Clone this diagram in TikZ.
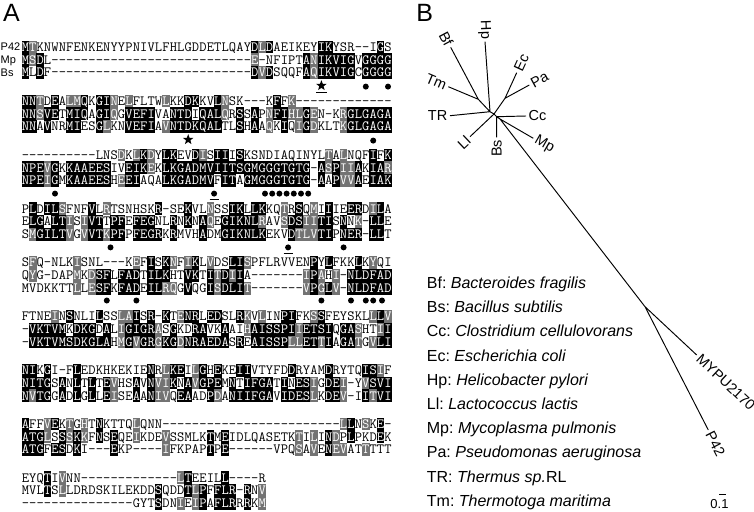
\documentclass[tikz,border=0pt]{standalone}
\usepackage{fontspec}
\setmainfont{Liberation Sans}
\usetikzlibrary{shapes.geometric}
\frenchspacing
\definecolor{shd}{gray}{0.45}
\newcommand\alnfont{\ttfamily\fontsize{14.1}{14.1}\selectfont}
\tikzset{
  resid/.style={font=\alnfont, inner sep=0pt, anchor=base, text=black},
  residw/.style={resid, text=white},
  idbox/.style={fill=black},
  simbox/.style={fill=shd},
  dotmark/.style={circle, fill=black, inner sep=0pt, minimum size=6pt},
  starmark/.style={star, star points=5, star point ratio=2.4, fill=black, inner sep=0pt, minimum size=11pt},
  ulmark/.style={line width=0.9pt},
  seqlab/.style={font=\fontsize{11}{11}\selectfont, anchor=base west, inner sep=0pt},
  panellab/.style={font=\fontsize{25}{25}\selectfont, anchor=base, inner sep=0pt},
  branch/.style={line width=0.95pt},
  leafl/.style={font=\fontsize{14.5}{14.5}\selectfont, inner sep=2.5pt, anchor=east},
  leafr/.style={font=\fontsize{14.5}{14.5}\selectfont, inner sep=2.5pt, anchor=west},
  legend/.style={font=\fontsize{16}{16}\selectfont, anchor=base west, inner sep=0pt},
}
\ExplSyntaxOn
\str_new:N \l__rs_a_str
\str_new:N \l__rs_b_str
\str_new:N \l__rs_c_str
\tl_new:N \l__rs_ca_tl
\tl_new:N \l__rs_cb_tl
\tl_new:N \l__rs_cc_tl
\tl_new:N \l__rs_xl_tl
\tl_new:N \l__rs_xr_tl
\tl_new:N \l__rs_xc_tl
\tl_new:N \l__rs_yt_tl
\tl_new:N \l__rs_yb_tl
\tl_new:N \l__rs_yl_tl
\int_new:N \l__rs_st_int
\cs_new:Npn \rsgap #1 { \prg_replicate:nn {#1} {-} }
\cs_new:Npn \__rs_group:n #1
  {
    \str_case:nnF {#1}
      {
        {I}{1} {L}{1} {V}{1} {M}{1}
        {F}{2} {Y}{2} {W}{2}
        {K}{3} {R}{3} {H}{3}
        {D}{4} {E}{4}
        {N}{5} {Q}{5}
        {S}{6} {T}{6}
        {A}{7} {G}{7}
      }
      {0}
  }
\cs_new_protected:Npn \__rs_status:nnn #1#2#3
  {
    \int_zero:N \l__rs_st_int
    \str_if_eq:nnF {#1} {-}
      {
        \bool_lazy_or:nnTF { \str_if_eq_p:nn {#1} {#2} } { \str_if_eq_p:nn {#1} {#3} }
          { \int_set:Nn \l__rs_st_int {2} }
          {
            \int_compare:nNnF { \__rs_group:n {#1} } = { 0 }
              {
                \bool_lazy_or:nnT
                  { \int_compare_p:nNn { \__rs_group:n {#1} } = { \__rs_group:n {#2} } }
                  { \int_compare_p:nNn { \__rs_group:n {#1} } = { \__rs_group:n {#3} } }
                  { \int_set:Nn \l__rs_st_int {1} }
              }
          }
      }
  }
\cs_new_protected:Npn \__rs_cell:nnnnn #1#2#3#4#5
  {
    \__rs_status:nnn {#3} {#4} {#5}
    \tl_set:Nx \l__rs_xl_tl { \fp_eval:n { 21.7 + (#1 - 1) * 7.4 - 0.1 } }
    \tl_set:Nx \l__rs_xr_tl { \fp_eval:n { 21.7 + (#1) * 7.4 + 0.1 } }
    \tl_set:Nx \l__rs_xc_tl { \fp_eval:n { 21.7 + (#1 - 0.5) * 7.4 } }
    \tl_set:Nx \l__rs_yt_tl { \fp_eval:n { #2 - 6.45 } }
    \tl_set:Nx \l__rs_yb_tl { \fp_eval:n { #2 + 6.45 } }
    \tl_set:Nx \l__rs_yl_tl { \fp_eval:n { #2 + 4.3 } }
    \int_case:nn { \l__rs_st_int }
      {
        {2} { \fill[idbox] (\l__rs_xl_tl , \l__rs_yt_tl) rectangle (\l__rs_xr_tl , \l__rs_yb_tl); }
        {1} { \fill[simbox] (\l__rs_xl_tl , \l__rs_yt_tl) rectangle (\l__rs_xr_tl , \l__rs_yb_tl); }
      }
    \int_compare:nNnTF { \l__rs_st_int } = { 0 }
      { \node[resid] at (\l__rs_xc_tl , \l__rs_yl_tl) {#3}; }
      { \node[residw] at (\l__rs_xc_tl , \l__rs_yl_tl) {#3}; }
  }
\cs_generate_variant:Nn \__rs_cell:nnnnn { nnVVV }
\NewDocumentCommand \AlnBlock { m m m m }
  {
    \str_set:Nx \l__rs_a_str {#2}
    \str_set:Nx \l__rs_b_str {#3}
    \str_set:Nx \l__rs_c_str {#4}
    \int_step_inline:nn { \str_count:N \l__rs_a_str }
      {
        \tl_set:Nx \l__rs_ca_tl { \str_item:Nn \l__rs_a_str {##1} }
        \tl_set:Nx \l__rs_cb_tl { \str_item:Nn \l__rs_b_str {##1} }
        \tl_set:Nx \l__rs_cc_tl { \str_item:Nn \l__rs_c_str {##1} }
        \__rs_cell:nnVVV {##1} {#1} \l__rs_ca_tl \l__rs_cb_tl \l__rs_cc_tl
        \__rs_cell:nnVVV {##1} {#1 + 12.8} \l__rs_cb_tl \l__rs_ca_tl \l__rs_cc_tl
        \__rs_cell:nnVVV {##1} {#1 + 25.6} \l__rs_cc_tl \l__rs_ca_tl \l__rs_cb_tl
      }
  }
\ExplSyntaxOff
\begin{document}
\begin{tikzpicture}[x=1pt,y=-1pt]
\useasboundingbox (0,0) rectangle (754,511);
\fill[white] (0,0) rectangle (754,511);
% panel labels
\node[panellab] (labA) at (11.5,22) {A};
\node[panellab] (labB) at (424.7,21.7) {B};
% sequence names
\node[seqlab] (sP42) at (0.5,51) {P42};
\node[seqlab] (sMp) at (0.5,63.8) {Mp};
\node[seqlab] (sBs) at (0.5,76.6) {Bs};
% alignment blocks
\AlnBlock{47}{MTKNWNFENKENYYPNIVLFHLGDDETLQAYDLDAEIKEYIKYSR--IGS}
  {MSDL\rsgap{27}E-NFIPTANIKVIGVGGGG}
  {MLDF\rsgap{27}DVDSQQFAQIKVIGCGGGG}
\AlnBlock{101}{NNTDEALMQKGINELFLTWLKKDKKVLNSK\rsgap{3}KFFK\rsgap{13}}
  {NNSVETMIQAGIQGVEFIVANTDIQALQRSSAPNFIHLGEN-KRGLGAGA}
  {NNAVNRMIESGLKNVEFIAVNTDKQALTLSHAAQKIQIGDKLTKGLGAGA}
\AlnBlock{155}{\rsgap{10}LNSDKLKDYLKEVDISIIISKSNDIAQINYLTALNQFIFK}
  {NPEVGKKAAEESIVEIKEKLKGADMVIITSGMGGGTGTG-ASPIIAKIAR}
  {NPEIGMKAAEESHEEIAQALKGADMVFITAGMGGGTGTG-AAPVVAEIAK}
\AlnBlock{208.8}{PLDILSFNFVLRTSNHSKR-SEKVLNSSIKLLKKQTRSQMIIIEERDILA}
  {ELGALTISIVTTPFEFEGNLRNKNAQEGIKNLRAVSDSIITISNNK-LLE}
  {SMGILTVGVVTKPFPFEGRKRMVHADMGIKNLKEKVDTLVTIPNER-LLT}
\AlnBlock{262.6}{SFQ-NLKISNL\rsgap{3}KEFISKNFIKLVDSLISPFLRVVENPYLFKKLKYQI}
  {QYG-DAPMKDSFLFADTILKHTVKTITDIIA\rsgap{7}IPAHI-NLDFAD}
  {MVDKKTTLLESFKFADEILRQGVQGISDLIT\rsgap{7}VPGLV-NLDFAD}
\AlnBlock{316.4}{FTNEINSNLILSSLAISR-KTENRLEDSLRKVLINPIFKSSFEYSKLLLV}
  {-VKTVMKDKGDALIGIGRASGKDRAVKAAIHAISSPIIETSIQGASHTII}
  {-VKTVMSDKGLAHMGVGRGKGDNRAEDASREAISSPLLETTIAGATGVLI}
\AlnBlock{370.2}{NIKGI-FLEDKHKEKIENRLKEILGHEKEIIVTYFDDRYAMDRYTQISIF}
  {NITGSANLTLTEVHSAVNVIKNAVGPEMNTIFGATINESIGDEI-YVSVI}
  {NVTGGADLGLLEISEAANIVQEAADPDANIIFGAVIDESLKDEV-IITVI}
\AlnBlock{424}{AFFVEKTGHTNKTTQLQNN\rsgap{24}LLNSKE-}
  {ATGLSSSKKFNSEQEIKDEVSSMLKTMEIDLQASETKTILINDPLPKDEK}
  {ATGFESDKI\rsgap{3}EKP\rsgap{4}IFKPAPTPE\rsgap{6}VPQSAVENEVATTTTT}
\AlnBlock{477.8}{EYQTIVNN\rsgap{13}LTEEILL\rsgap{4}R}
  {MVLTSLLDRDSKILEKDDSQDDTLPFFLR-RNV}
  {\rsgap{15}GYTSDNIEIPAFLRRRKM}
% markers block 1
\node[starmark] (m1s) at (321.4,85.6) {};
\draw[ulmark] (316,92.6) -- (326.8,92.6);
\node[dotmark] (m1a) at (365.8,86.6) {};
\node[dotmark] (m1b) at (388,86.6) {};
% block 2
\node[starmark] (m2s) at (188.2,139.6) {};
\node[dotmark] (m2a) at (373.2,140.6) {};
% block 3
\node[dotmark] (m3a) at (55,193.6) {};
\node[dotmark] (m3b) at (214.1,193.6) {};
\draw[ulmark] (209.6,199.6) -- (218.6,199.6);
\foreach \i in {0,...,6} {\node[dotmark] (m3g\i) at (265+7.2*\i,193.6) {};}
% block 4
\node[dotmark] (m4a) at (110.5,247.4) {};
\node[dotmark] (m4b) at (288.1,247.4) {};
\draw[ulmark] (283.6,253.4) -- (292.6,253.4);
\node[dotmark] (m4c) at (343.6,247.4) {};
% block 5
\foreach \x [count=\k] in {106.8,136.4,321.4,351,365.8,373.2,382}
  {\node[dotmark] (m5d\k) at (\x,300.5) {};}
% tree
\coordinate (c0) at (490,111.7);
\coordinate (n1) at (478.3,99.3);
\coordinate (tBf) at (450.7,47.3);
\coordinate (tTm) at (448.3,86.7);
\coordinate (tHp) at (485,41.7);
\coordinate (tTR) at (450,115.7);
\coordinate (c1) at (494,114);
\coordinate (n3) at (505,98.3);
\coordinate (tEc) at (516.7,72.7);
\coordinate (tPa) at (529.3,85);
\coordinate (tLl) at (470,136.7);
\coordinate (c2) at (496.7,116.7);
\coordinate (tCc) at (526,116);
\coordinate (tBs) at (496.7,137.3);
\coordinate (c3) at (500,119);
\coordinate (tMp) at (533.3,138.3);
\coordinate (n5) at (645,306.7);
\coordinate (tMY) at (696.7,355);
\coordinate (tP42) at (708.3,430);
\draw[branch] (c0) -- (n1) (n1) -- (tBf) (n1) -- (tTm) (c0) -- (tHp) (c0) -- (tTR)
  (c0) -- (c1) (c1) -- (n3) (n3) -- (tEc) (n3) -- (tPa) (c1) -- (tLl)
  (c1) -- (c2) (c2) -- (tCc) (c2) -- (tBs) (c2) -- (c3) (c3) -- (tMp)
  (c3) -- (n5) (n5) -- (tMY) (n5) -- (tP42);
\node[leafl, rotate=-62] (lBf) at (tBf) {Bf};
\node[leafl, rotate=-88] (lHp) at (tHp) {Hp};
\node[leafl, rotate=-23] (lTm) at (tTm) {Tm};
\node[leafl] (lTR) at (tTR) {TR};
\node[leafl, rotate=43.4] (lLl) at (tLl) {Ll};
\node[leafl, rotate=90] (lBs) at (tBs) {Bs};
\node[leafr, rotate=65.4] (lEc) at (tEc) {Ec};
\node[leafr, rotate=28.7] (lPa) at (tPa) {Pa};
\node[leafr] (lCc) at (tCc) {Cc};
\node[leafr, rotate=-30] (lMp) at (tMp) {Mp};
\node[leafr, rotate=-43] (lMY) at (tMY) {MYPU2170};
\node[leafr, rotate=-62.8] (lP42) at (tP42) {P42};
% scale bar
\coordinate (sb1) at (719.3,494.5);
\coordinate (sb2) at (725.7,494.5);
\draw[line width=0.9pt] (sb1) -- (sb2);
\node[font=\fontsize{13}{13}\selectfont, anchor=base, inner sep=0pt] (sbl) at (719.5,508) {0.1};
% legend
\foreach \t [count=\k from 0] in {
  {Bf: \textit{Bacteroides fragilis}},
  {Bs: \textit{Bacillus subtilis}},
  {Cc: \textit{Clostridium cellulovorans}},
  {Ec: \textit{Escherichia coli}},
  {Hp: \textit{Helicobacter pylori}},
  {Ll: \textit{Lactococcus lactis}},
  {Mp: \textit{Mycoplasma pulmonis}},
  {Pa: \textit{Pseudomonas aeruginosa}},
  {TR: \textit{Thermus sp.}RL},
  {Tm: \textit{Thermotoga maritima}}}
  {\node[legend] (lg\k) at (426.7,288.5+24.2*\k) {\t};}
\end{tikzpicture}
\end{document}
